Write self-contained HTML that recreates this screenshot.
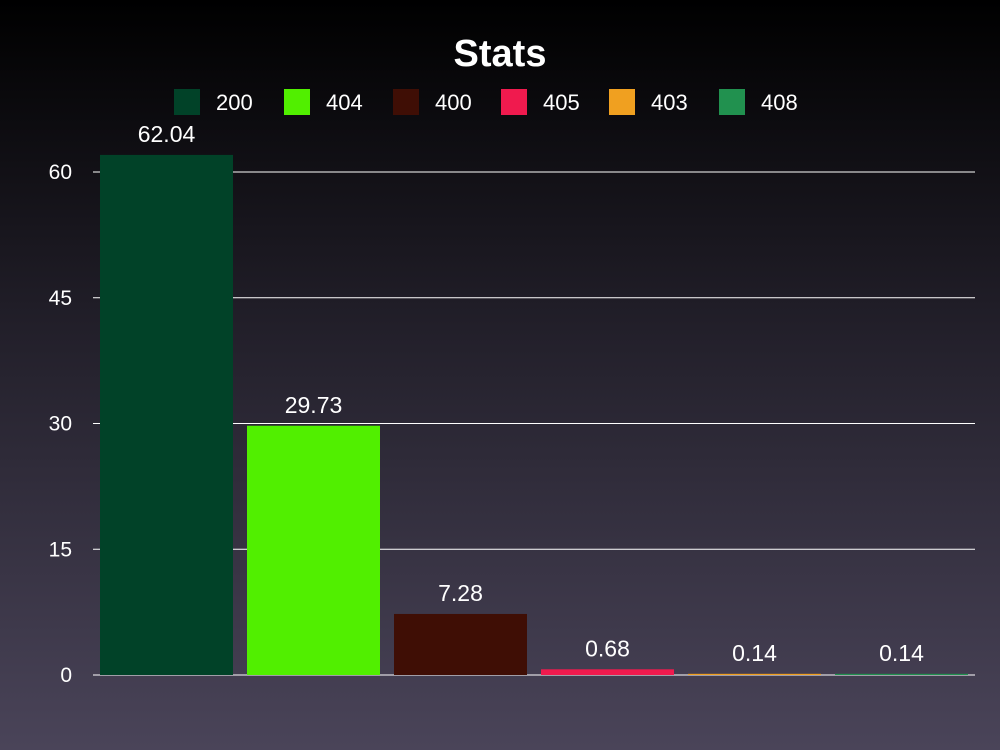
<!DOCTYPE html>
<html><head><meta charset="utf-8"><style>
html,body{margin:0;padding:0}
body{width:1000px;height:750px;background:linear-gradient(#000 0%,#23202b 45%,#4a4459 100%);font-family:"Liberation Sans",sans-serif;overflow:hidden}
svg{display:block}
</style></head><body>
<svg id="chart" width="1000" height="750" xmlns="http://www.w3.org/2000/svg">
<text x="500" y="66" text-anchor="middle" fill="#fff" font-size="38" font-weight="bold">Stats</text>
<g id="legend"></g>
<g id="grid"></g>
<g id="bars"></g>
</svg>
<script>
const categories=["200","404","400","405","403","408"];
const values=[62.04,29.73,7.28,0.68,0.14,0.14];
const colors=["#014228","#51ef00","#3f0e05","#f01a4e","#f0a020","#21914f"];
const ticks=[0,15,30,45,60];
const NS="http://www.w3.org/2000/svg";
const x0=93,x1=975,yZero=675,yTop=172,vMax=60;
const y=v=>yZero-(v/vMax)*(yZero-yTop);
const slot=(x1-x0)/categories.length;
function mk(tag,attrs,parent){const e=document.createElementNS(NS,tag);for(const k in attrs)e.setAttribute(k,attrs[k]);parent.appendChild(e);return e;}
const grid=document.getElementById('grid');
ticks.forEach(t=>{
 const l=mk('line',{x1:x0,x2:x1,y1:y(t),y2:y(t),stroke:'#fff','stroke-width':1},grid);
 
 
 const tx=mk('text',{x:72,y:y(t)+7,'text-anchor':'end',fill:'#fff','font-size':21},grid);
 tx.textContent=t;
 
 
});
const bars=document.getElementById('bars');
categories.forEach((c,i)=>{
 const bx=x0+i*slot+7,bw=slot-14;
 const r=mk('rect',{x:bx,y:y(values[i]),width:bw,height:yZero-y(values[i]),fill:colors[i]},bars);
 
 
 const t=mk('text',{x:bx+bw/2,y:y(values[i])-13,'text-anchor':'middle',fill:'#fff','font-size':23},bars);
 t.textContent=values[i].toFixed(2);
 
 
});
const legend=document.getElementById('legend');
const lx=[174,284,393,501,609,719];
categories.forEach((c,i)=>{
 const g=mk('g',{},legend);
 
 
 mk('rect',{x:lx[i],y:89,width:26,height:26,fill:colors[i]},g);
 const t=mk('text',{x:lx[i]+42,y:110,fill:'#fff','font-size':22},g);
 t.textContent=c;
});
</script>
</body></html>
